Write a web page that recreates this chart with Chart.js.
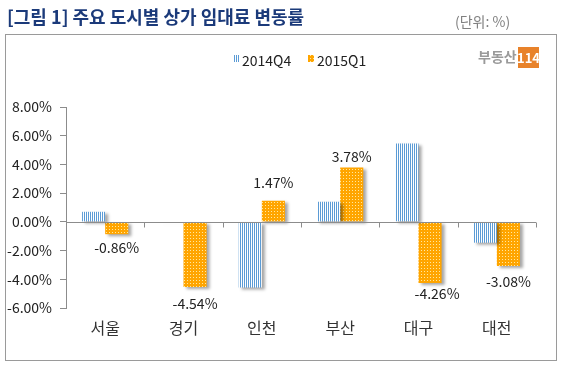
<!DOCTYPE html>
<html><head><meta charset="utf-8">
<script src="https://cdn.jsdelivr.net/npm/chart.js@4/dist/chart.umd.min.js"></script>
<style>html,body{margin:0;padding:0;background:#fff}#wrap{width:562px;height:369px;position:relative}</style>
</head><body><div id="wrap"><canvas id="c" width="562" height="369"></canvas></div>
<script>
const categories = ['서울','경기','인천','부산','대구','대전'];
const series2014Q4 = [0.70, -0.04, -4.58, 1.40, 5.45, -1.45];
const series2015Q1 = [-0.86, -4.54, 1.47, 3.78, -4.26, -3.08];
const seriesNames = ['2014Q4','2015Q1'];
const yTicks = [-6, -4, -2, 0, 2, 4, 6, 8];

const FONT = '"Noto Sans CJK KR", "Noto Sans", sans-serif';

function makePattern(w, h, draw) {
  const c = document.createElement('canvas'); c.width = w; c.height = h;
  const g = c.getContext('2d'); draw(g);
  return document.getElementById('c').getContext('2d').createPattern(c, 'repeat');
}
const bluePat = makePattern(2, 1, g => { g.fillStyle = '#fff'; g.fillRect(0,0,2,1); g.fillStyle = '#5B9BD5'; g.fillRect(0,0,1,1); });
const orangePat = makePattern(3, 3, g => { g.fillStyle = '#FFA500'; g.fillRect(0,0,3,3); g.fillStyle = '#FFE8A0'; g.fillRect(1,1,1,1); });

const labelGap = [13, 17, 18, 11, 11, 16];
const labelDx = [0, 0, 0, 0, 7, 0];

const decor = {
  id: 'decor',
  beforeDraw(chart) {
    const ctx = chart.ctx;
    ctx.save();
    ctx.fillStyle = '#fff'; ctx.fillRect(0, 0, chart.width, chart.height);
    // title
    ctx.fillStyle = '#1B3A7A';
    ctx.font = 'bold 18px ' + FONT;
    ctx.textBaseline = 'alphabetic'; ctx.textAlign = 'left';
    ctx.fillText('[그림 1] 주요 도시별 상가 임대료 변동률', 7, 24);
    ctx.fillStyle = '#808080';
    ctx.font = '14px ' + FONT;
    ctx.fillText('(단위: %)', 455, 27);
    // frame
    ctx.strokeStyle = '#9A9A9A'; ctx.lineWidth = 1;
    ctx.strokeRect(5.5, 34.5, 551, 326);
    // legend
    const pats = [bluePat, orangePat];
    const lx = [233, 308];
    ctx.font = '14px ' + FONT; ctx.textBaseline = 'middle'; ctx.fillStyle = '#222';
    seriesNames.forEach((n, i) => {
      ctx.fillStyle = pats[i]; ctx.fillRect(lx[i], 55, 6, 7);
      ctx.fillStyle = '#222'; ctx.fillText(n, lx[i] + 9, 61);
    });
    // logo
    ctx.font = 'bold 14px ' + FONT; ctx.fillStyle = '#9A9A9A'; ctx.textAlign = 'left';
    ctx.fillText('부동산', 478, 57);
    ctx.fillStyle = '#E8822A'; ctx.fillRect(518, 47, 21, 21);
    ctx.fillStyle = '#fff'; ctx.font = 'bold 13px ' + FONT; ctx.textAlign = 'center';
    ctx.fillText('114', 528.5, 58);
    ctx.restore();
  },
  beforeDatasetsDraw(chart) {
    const ctx = chart.ctx;
    ctx.save();
    ctx.shadowColor = 'rgba(0,0,0,0.35)';
    ctx.shadowOffsetX = 3; ctx.shadowOffsetY = 2; ctx.shadowBlur = 3;
  },
  afterDatasetsDraw(chart) {
    const ctx = chart.ctx;
    ctx.restore();
    ctx.save();
    const x = chart.scales.x, y = chart.scales.y;
    const y0 = Math.round(y.getPixelForValue(0)) + 0.5;
    ctx.strokeStyle = '#8C8C8C'; ctx.lineWidth = 1;
    ctx.beginPath();
    ctx.moveTo(x.left, y0); ctx.lineTo(x.right, y0);
    const step = (x.right - x.left) / categories.length;
    for (let i = 1; i <= categories.length; i++) {
      const px = Math.round(x.left + step * i) + 0.5;
      ctx.moveTo(px, y0); ctx.lineTo(px, y0 + 5);
    }
    ctx.stroke();
    // data labels for 2015Q1
    const meta = chart.getDatasetMeta(1);
    ctx.font = '14px ' + FONT; ctx.fillStyle = '#222';
    ctx.textAlign = 'center'; ctx.textBaseline = 'middle';
    meta.data.forEach((bar, i) => {
      const v = series2015Q1[i];
      const ty = v >= 0 ? bar.y - labelGap[i] : bar.y + labelGap[i];
      ctx.fillText(v.toFixed(2) + '%', bar.x + labelDx[i], ty);
    });
    ctx.restore();
  }
};

new Chart(document.getElementById('c'), {
  type: 'bar',
  data: {
    labels: categories,
    datasets: [
      { label: seriesNames[0], data: series2014Q4, backgroundColor: bluePat, borderWidth: 0 },
      { label: seriesNames[1], data: series2015Q1, backgroundColor: orangePat, borderWidth: 0 }
    ]
  },
  options: {
    responsive: false, animation: false, devicePixelRatio: 1,
    layout: { padding: { left: 0, right: 26, top: 107, bottom: 0 } },
    plugins: { legend: { display: false }, tooltip: { enabled: false } },
    datasets: { bar: { categoryPercentage: 0.59, barPercentage: 1.0 } },
    scales: {
      x: {
        grid: { display: false, drawTicks: false },
        border: { display: false },
        ticks: { padding: 10, color: '#333', font: { family: FONT, size: 16 } },
        afterFit(s) { s.height = 61; }
      },
      y: {
        min: -6, max: 8,
        afterBuildTicks(s) { s.ticks = yTicks.map(v => ({ value: v })); },
        grid: { drawOnChartArea: false, drawTicks: true, tickLength: 6, color: '#8C8C8C' },
        border: { display: true, color: '#8C8C8C' },
        ticks: { padding: 8, color: '#222', font: { family: FONT, size: 14 },
                 callback: v => v.toFixed(2) + '%' },
        afterFit(s) { s.width = 66; }
      }
    }
  },
  plugins: [decor]
});
</script></body></html>
